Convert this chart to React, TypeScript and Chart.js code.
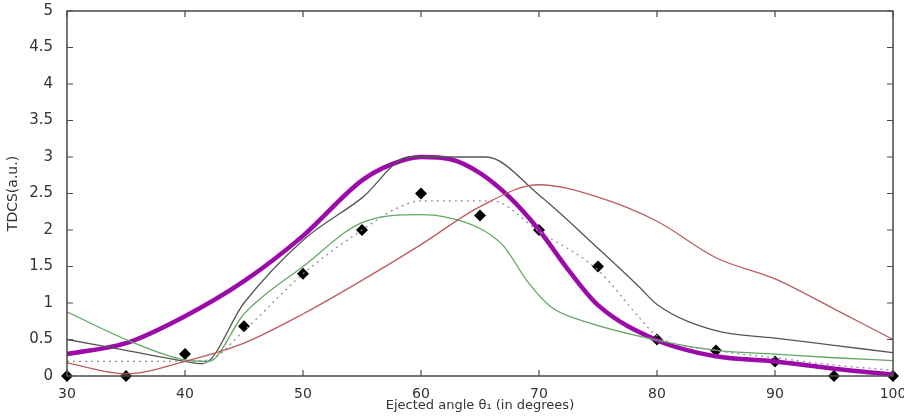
import React, { useEffect, useRef } from 'react';
import { Chart, registerables } from 'chart.js';
Chart.register(...registerables);

const angles = [30, 35, 40, 45, 50, 55, 60, 65, 70, 75, 80, 85, 90, 95, 100];
const purpleAngles = [30, 35, 40, 45, 50, 55, 57.5, 60, 62.5, 65, 67.5, 70, 72.5, 75, 80, 85, 90, 95, 100];
const purpleTDCS = [0.3, 0.45, 0.82, 1.3, 1.92, 2.68, 2.9, 3.0, 2.97, 2.78, 2.45, 2.0, 1.45, 0.97, 0.49, 0.27, 0.2, 0.1, 0.02];
const redTDCS = [0.18, 0.03, 0.2, 0.45, 0.85, 1.31, 1.8, 2.32, 2.62, 2.45, 2.12, 1.62, 1.33, 0.92, 0.5];
const grayAngles = [30, 35, 40, 41.5, 45, 50, 55, 59, 65.5, 70, 75, 78.5, 80, 85, 90, 95, 100];
const grayTDCS = [0.5, 0.35, 0.2, 0.17, 1.0, 1.86, 2.44, 3.0, 3.0, 2.48, 1.75, 1.22, 0.98, 0.62, 0.52, 0.42, 0.32];
const greenAngles = [30, 35, 40, 42, 45, 50, 55, 60, 62, 65, 67, 69, 71, 74, 80, 85, 90, 95, 100];
const greenTDCS = [0.88, 0.5, 0.22, 0.2, 0.85, 1.5, 2.1, 2.21, 2.18, 2.02, 1.78, 1.3, 0.95, 0.74, 0.49, 0.35, 0.3, 0.25, 0.21];
const dottedAngles = [30, 35, 40, 42, 45, 50, 55, 58, 60, 66, 70, 75, 78.5, 80, 85, 90, 95, 100];
const dottedTDCS = [0.2, 0.2, 0.2, 0.22, 0.62, 1.4, 2.0, 2.3, 2.4, 2.4, 1.98, 1.45, 0.8, 0.55, 0.35, 0.25, 0.15, 0.08];
const expTDCS = [0, 0, 0.3, 0.68, 1.4, 2.0, 2.5, 2.2, 2.0, 1.5, 0.5, 0.35, 0.2, 0, 0];
const xTicks = [30, 40, 50, 60, 70, 80, 90, 100];
const yTicks = [0, 0.5, 1, 1.5, 2, 2.5, 3, 3.5, 4, 4.5, 5];

const pts = (xs: number[], ys: number[]) => xs.map((x, i) => ({ x, y: ys[i] }));

const framePlugin = {
  id: 'frame',
  afterDatasetsDraw(chart: any) {
    const { ctx, chartArea: a, scales } = chart;
    ctx.save();
    ctx.strokeStyle = '#4a4a4a';
    ctx.lineWidth = 1.5;
    ctx.strokeRect(a.left, a.top, a.right - a.left, a.bottom - a.top);
    ctx.lineWidth = 1.2;
    ctx.beginPath();
    for (const v of xTicks) {
      const px = scales.x.getPixelForValue(v);
      ctx.moveTo(px, a.bottom); ctx.lineTo(px, a.bottom - 6);
      ctx.moveTo(px, a.top); ctx.lineTo(px, a.top + 6);
    }
    for (const v of yTicks) {
      const py = scales.y.getPixelForValue(v);
      ctx.moveTo(a.left, py); ctx.lineTo(a.left + 6, py);
      ctx.moveTo(a.right, py); ctx.lineTo(a.right - 6, py);
    }
    ctx.stroke();
    ctx.restore();
  },
};

export default function App() {
  const ref = useRef<HTMLCanvasElement>(null);
  useEffect(() => {
    const lineBase = { showLine: true, pointRadius: 0, cubicInterpolationMode: 'monotone' as const, fill: false };
    const chart = new Chart(ref.current!, {
      type: 'scatter',
      data: {
        datasets: [
          { ...lineBase, data: pts(angles, redTDCS), borderColor: '#bc5c5c', borderWidth: 1.3 },
          { ...lineBase, data: pts(dottedAngles, dottedTDCS), borderColor: '#8c8ca8', borderWidth: 1.3, borderDash: [2, 4] },
          { ...lineBase, data: pts(greenAngles, greenTDCS), borderColor: '#62a862', borderWidth: 1.3 },
          { ...lineBase, data: pts(grayAngles, grayTDCS), borderColor: '#555555', borderWidth: 1.3 },
          { ...lineBase, data: pts(purpleAngles, purpleTDCS), borderColor: '#9c0aa8', borderWidth: 4.5 },
          {
            data: pts(angles, expTDCS), showLine: false, pointStyle: 'rectRot', pointRadius: 6,
            backgroundColor: '#000', borderColor: '#000', borderWidth: 0, clip: false,
          } as any,
        ],
      },
      options: {
        responsive: false,
        animation: false,
        events: [],
        layout: { padding: { top: 11, right: 11, left: 0, bottom: 0 } },
        plugins: { legend: { display: false }, tooltip: { enabled: false } },
        scales: {
          x: {
            type: 'linear', min: 30, max: 100,
            grid: { display: false }, border: { display: false },
            ticks: { stepSize: 10, color: '#333', padding: 2, maxRotation: 0, font: { family: 'DejaVu Sans', size: 14 } },
            title: { display: true, text: 'Ejected angle θ₁ (in degrees)', color: '#333', padding: { top: 0, bottom: 4 }, font: { family: 'DejaVu Sans', size: 13 } },
            afterFit: (s: any) => { s.height = 41; s.paddingLeft = 0; s.paddingRight = 0; },
          },
          y: {
            type: 'linear', min: 0, max: 5,
            grid: { display: false }, border: { display: false },
            ticks: { stepSize: 0.5, color: '#333', padding: 6, font: { family: 'DejaVu Sans', size: 15 }, callback: (v: any) => `${v}` },
            title: { display: true, text: 'TDCS(a.u.)', color: '#333', padding: { top: 5, bottom: 0 }, font: { family: 'DejaVu Sans', size: 14 } },
            afterFit: (s: any) => { s.width = 67; s.paddingTop = 0; s.paddingBottom = 0; },
          },
        },
      },
      plugins: [framePlugin],
    });
    return () => chart.destroy();
  }, []);
  return (
    <div style={{ position: 'fixed', left: 0, top: 0, width: 904, height: 417, background: '#fff' }}>
      <canvas ref={ref} width={904} height={417} />
    </div>
  );
}
